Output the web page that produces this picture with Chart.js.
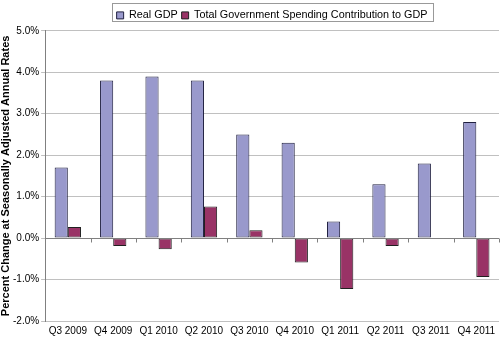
<!DOCTYPE html>
<html>
<head>
<meta charset="utf-8">
<script src="https://cdn.jsdelivr.net/npm/chart.js@4/dist/chart.umd.min.js"></script>
<style>
  body { margin: 0; background: #fff; }
  #wrap { width: 500px; height: 341px; }
</style>
</head>
<body>
<div id="wrap"><canvas id="myChart" width="500" height="341"></canvas></div>
<script>
const quarters = ["Q3 2009", "Q4 2009", "Q1 2010", "Q2 2010", "Q3 2010", "Q4 2010", "Q1 2011", "Q2 2011", "Q3 2011", "Q4 2011"];
const realGdp = [1.7, 3.8, 3.9, 3.8, 2.5, 2.3, 0.4, 1.3, 1.8, 2.8];
const govSpending = [0.27, -0.19, -0.27, 0.76, 0.19, -0.59, -1.23, -0.19, -0.02, -0.94];

// legend centred over the plot, a box round it, and the little ticks on the zero line
const extras = {
    id: "extras",
    afterLayout(chart) {
        const lg = chart.legend;
        lg.left = chart.chartArea.left;
        lg.right = chart.chartArea.right;
    },
    afterDraw(chart) {
        const ctx = chart.ctx;
        const area = chart.chartArea;
        const lg = chart.legend;
        ctx.save();
        const w = lg.lineWidths[0] + 6;
        const l = (area.left + area.right) / 2 - w / 2;
        ctx.strokeStyle = "#999";
        ctx.lineWidth = 1;
        ctx.strokeRect(Math.round(l) + 0.5, 3.5, Math.round(w), 18);

        const y0 = Math.round(chart.scales.y.getPixelForValue(0)) + 0.5;
        ctx.strokeStyle = "#808080";
        ctx.beginPath();
        ctx.moveTo(area.left, y0);
        ctx.lineTo(area.right, y0);
        const step = (area.right - area.left) / quarters.length;
        for (let i = 1; i <= quarters.length; i++) {
            const px = Math.round(area.left + i * step) + 0.5;
            ctx.moveTo(px, y0);
            ctx.lineTo(px, y0 + 4);
        }
        ctx.stroke();
        ctx.restore();
    }
};

new Chart(document.getElementById("myChart"), {
    type: "bar",
    data: {
        labels: quarters,
        datasets: [{
            label: "Real GDP",
            data: realGdp,
            backgroundColor: "#9999cc",
            borderColor: "#202040",
            borderWidth: 1,
            borderSkipped: false,
            categoryPercentage: 0.58,
            barPercentage: 1.0
        }, {
            label: "Total Government Spending Contribution to GDP",
            data: govSpending,
            backgroundColor: "#993366",
            borderColor: "#202020",
            borderWidth: 1,
            borderSkipped: false,
            categoryPercentage: 0.58,
            barPercentage: 1.0
        }]
    },
    options: {
        responsive: false,
        animation: false,
        devicePixelRatio: 1,
        layout: { padding: { left: 0, right: 1, top: 6, bottom: 0 } },
        plugins: {
            tooltip: { enabled: false },
            legend: {
                position: "top",
                labels: {
                    boxWidth: 7,
                    boxHeight: 7,
                    padding: 4,
                    color: "#000",
                    font: { family: "'Liberation Sans', Arial", size: 10.8 }
                }
            }
        },
        scales: {
            x: {
                grid: { display: false, drawTicks: false },
                border: { display: false },
                ticks: {
                    color: "#000",
                    padding: 4,
                    maxRotation: 0,
                    autoSkip: false,
                    font: { family: "'Liberation Sans', Arial", size: 10 }
                }
            },
            y: {
                min: -2,
                max: 5,
                grid: { color: "#c0c0c0", drawTicks: true, tickLength: 4 },
                border: { display: true, color: "#808080" },
                ticks: {
                    stepSize: 1,
                    color: "#000",
                    padding: 2,
                    font: { family: "'Liberation Sans', Arial", size: 10 },
                    callback: v => v.toFixed(1) + "%"
                },
                title: {
                    display: true,
                    text: "Percent Change at Seasonally Adjusted Annual Rates",
                    color: "#000",
                    padding: { top: 0, bottom: 0 },
                    font: { family: "'Liberation Sans', Arial", size: 11, weight: "bold", lineHeight: 1.0 }
                }
            }
        }
    },
    plugins: [extras]
});
</script>
</body>
</html>
